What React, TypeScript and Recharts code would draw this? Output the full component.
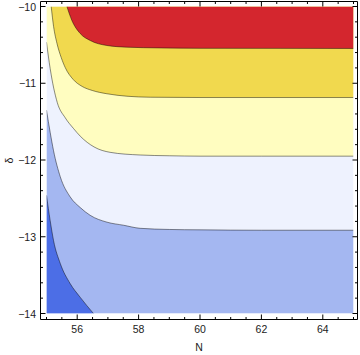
import { ComposedChart, Area, XAxis, YAxis } from 'recharts'

const xDomain = [55, 65]
const yDomain = [-14, -10]

const xTicks = [55, 55.5, 56, 56.5, 57, 57.5, 58, 58.5, 59, 59.5, 60, 60.5, 61, 61.5, 62, 62.5, 63, 63.5, 64, 64.5, 65]
const xMajor = [56, 58, 60, 62, 64]
const yTicks = [-14, -13.8, -13.6, -13.4, -13.2, -13, -12.8, -12.6, -12.4, -12.2, -12, -11.8, -11.6, -11.4, -11.2, -11, -10.8, -10.6, -10.4, -10.2, -10]
const yMajor = [-14, -13, -12, -11, -10]

// contour boundaries (N -> δ)
const deepN = [55, 55.12, 55.23, 55.45, 55.77, 56.1, 56.53]
const deepD = [-12.46, -12.79, -13.05, -13.35, -13.61, -13.79, -14.0]

const blueN = [55, 55.12, 55.23, 55.45, 55.77, 56.1, 56.42, 56.97, 57.51, 58.05, 59, 60, 62, 65]
const blueD = [-11.35, -11.64, -11.88, -12.22, -12.48, -12.62, -12.72, -12.81, -12.85, -12.89, -12.905, -12.91, -12.915, -12.915]

const paleN = [55, 55.12, 55.35, 55.61, 55.88, 56.1, 56.55, 57.07, 58.05, 59, 60, 62, 65]
const paleD = [-10.465, -10.81, -11.25, -11.45, -11.59, -11.69, -11.83, -11.9, -11.935, -11.945, -11.95, -11.95, -11.95]

const yellowN = [55.153, 55.231, 55.342, 55.479, 55.609, 55.87, 56.163, 56.489, 56.967, 57.619, 58.378, 60, 65]
const yellowD = [-10.0, -10.261, -10.482, -10.665, -10.795, -10.951, -11.042, -11.094, -11.137, -11.169, -11.182, -11.186, -11.186]

const redN = [55.664, 55.827, 56.098, 56.423, 56.967, 57.619, 58.7, 60, 65]
const redD = [-10.0, -10.182, -10.352, -10.443, -10.508, -10.53, -10.54, -10.545, -10.547]

const rows = (ns: number[], ds: number[]) => ns.map((n, i) => ({ N: n, d: ds[i] }))

const FONT = '"Liberation Sans", Arial, sans-serif'
const LINE = { stroke: '#000', strokeOpacity: 0.45, strokeWidth: 1 }

const minus = (v: number) => (v < 0 ? '\u2212' + Math.abs(v) : String(v))

function BottomTick(p: any) {
  const major = xMajor.includes(p.payload.value)
  const len = major ? 5 : 2.5
  return (
    <g>
      <line x1={p.x} y1={p.y} x2={p.x} y2={p.y - len} stroke="#000" />
      {major && (
        <text x={p.x} y={p.y + 13} textAnchor="middle" fontFamily={FONT} fontSize={10.5} fill="#222">
          {p.payload.value}
        </text>
      )}
    </g>
  )
}

function TopTick(p: any) {
  const len = xMajor.includes(p.payload.value) ? 5 : 2.5
  return <line x1={p.x} y1={p.y} x2={p.x} y2={p.y + len} stroke="#000" />
}

function LeftTick(p: any) {
  const major = yMajor.includes(p.payload.value)
  const len = major ? 5 : 2.5
  return (
    <g>
      <line x1={p.x} y1={p.y} x2={p.x + len} y2={p.y} stroke="#000" />
      {major && (
        <text x={p.x - 4.5} y={p.y} textAnchor="end" dominantBaseline="central" fontFamily={FONT} fontSize={10.5} fill="#222">
          {minus(p.payload.value)}
        </text>
      )}
    </g>
  )
}

function RightTick(p: any) {
  const len = yMajor.includes(p.payload.value) ? 5 : 2.5
  return <line x1={p.x} y1={p.y} x2={p.x - len} y2={p.y} stroke="#000" />
}

export default function App() {
  const area = { type: 'monotone' as const, dataKey: 'd', xAxisId: 'b', yAxisId: 'l', isAnimationActive: false, connectNulls: true, dot: false, activeDot: false, fillOpacity: 1 }
  return (
    <div style={{ position: 'absolute', left: 0, top: 0, width: 360, height: 355, background: '#fff' }}>
      <ComposedChart width={360} height={355} margin={{ top: 0.5, right: 0, bottom: 0, left: 0.5 }}>
        <XAxis
          xAxisId="b"
          type="number"
          dataKey="N"
          domain={xDomain}
          ticks={xTicks}
          interval={0}
          allowDataOverflow
          padding={{ left: 6, right: 4 }}
          height={35.5}
          tickSize={0}
          tickMargin={0}
          tickLine={false}
          axisLine={{ stroke: '#000' }}
          tick={BottomTick}
          label={{ value: 'N', position: 'insideBottom', offset: 4, style: { fontFamily: FONT, fontSize: 10.5, fill: '#222' } }}
        />
        <XAxis
          xAxisId="t"
          orientation="top"
          type="number"
          dataKey="N"
          domain={xDomain}
          ticks={xTicks}
          interval={0}
          allowDataOverflow
          padding={{ left: 6, right: 4 }}
          height={1}
          tickSize={0}
          tickMargin={0}
          tickLine={false}
          axisLine={{ stroke: '#000' }}
          tick={TopTick}
        />
        <YAxis
          yAxisId="l"
          type="number"
          domain={yDomain}
          ticks={yTicks}
          interval={0}
          allowDataOverflow
          padding={{ top: 5, bottom: 6 }}
          width={40}
          tickSize={0}
          tickMargin={0}
          tickLine={false}
          axisLine={{ stroke: '#000' }}
          tick={LeftTick}
          label={{
            value: 'δ',
            content: (props: any) => {
              const vb = props.viewBox
              const cx = vb.x + 8
              const cy = vb.y + vb.height / 2
              return (
                <text x={cx} y={cy} transform={`rotate(-90 ${cx} ${cy})`} textAnchor="middle" dominantBaseline="central" fontFamily={FONT} fontSize={10.5} fill="#222">
                  δ
                </text>
              )
            },
          }}
        />
        <YAxis
          yAxisId="r"
          orientation="right"
          type="number"
          domain={yDomain}
          ticks={yTicks}
          interval={0}
          allowDataOverflow
          padding={{ top: 5, bottom: 6 }}
          width={2.5}
          tickSize={0}
          tickMargin={0}
          tickLine={false}
          axisLine={{ stroke: '#000' }}
          tick={RightTick}
        />

        {/* middle band as the base layer */}
        <Area {...area} data={rows(xDomain, [yDomain[0], yDomain[0]])} baseValue="dataMax" fill="#EEF2FE" stroke="none" type="linear" />
        <Area {...area} data={rows(paleN, paleD)} baseValue="dataMax" fill="#FFFDC0" {...LINE} />
        <Area {...area} data={rows(yellowN, yellowD)} baseValue="dataMax" fill="#F1D94E" {...LINE} />
        <Area {...area} data={rows(redN, redD)} baseValue="dataMax" fill="#D4262E" {...LINE} />
        <Area {...area} data={rows(blueN, blueD)} baseValue="dataMin" fill="#A4B7F1" {...LINE} />
        <Area {...area} data={rows(deepN, deepD)} baseValue="dataMin" fill="#4C6EE6" {...LINE} />
      </ComposedChart>
    </div>
  )
}
